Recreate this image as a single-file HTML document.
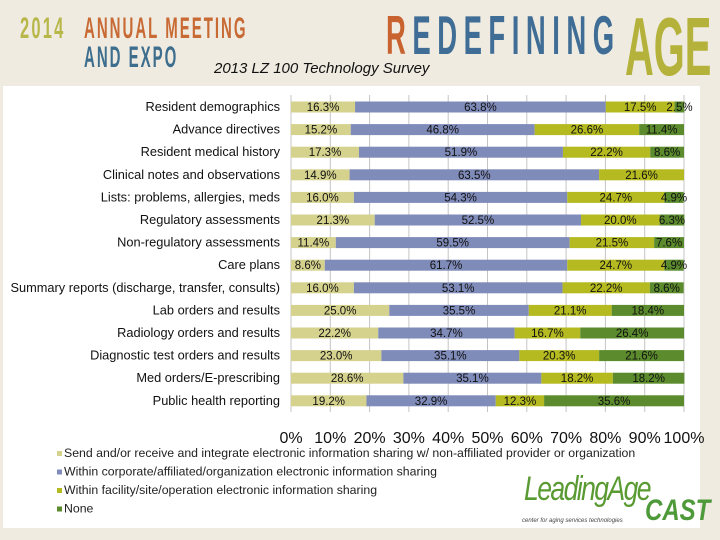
<!DOCTYPE html>
<html><head><meta charset="utf-8">
<style>
body{margin:0;width:720px;height:540px;overflow:hidden;background:#efebe1;font-family:"Liberation Sans",sans-serif;}
.h{position:absolute;font-weight:bold;white-space:nowrap;transform-origin:0 0;line-height:1;}
</style></head>
<body>
<div style="position:absolute;left:0;top:0;width:720px;height:86px;background:#efebe1;">
  <div class="h" style="left:20px;top:14px;font-size:30px;color:#b8b84a;transform:scaleX(0.55);letter-spacing:4px;">2014</div>
  <div class="h" style="left:84px;top:14px;font-size:30px;color:#c86a34;transform:scaleX(0.5);letter-spacing:4px;">ANNUAL MEETING</div>
  <div class="h" style="left:84px;top:43px;font-size:30px;color:#3e6e8e;transform:scaleX(0.5);letter-spacing:4px;">AND EXPO</div>
  <div class="h" style="left:386px;top:8px;font-size:55px;color:#3f6d95;transform:scaleX(0.5);letter-spacing:13px;"><span style="color:#c8622e">R</span>EDEFINING</div>
  <div class="h" style="left:625px;top:5px;font-size:83px;color:#b4b23a;transform:scaleX(0.48);">AGE</div>
  <div style="position:absolute;left:214px;top:60px;font-size:15px;font-style:italic;color:#111;">2013 LZ 100 Technology Survey</div>
</div>
<div style="position:absolute;left:3px;top:86px;width:697px;height:442px;background:#fff;"></div>
<svg id="chart" width="720" height="540" style="position:absolute;left:0;top:0;"></svg>
<div style="position:absolute;left:518px;top:470px;width:195px;height:60px;">
  <div style="position:absolute;left:6px;top:0;font-size:34px;font-style:italic;color:#5a9a32;letter-spacing:-2px;transform:scaleX(0.78);transform-origin:0 0;">LeadingAge</div>
  <div style="position:absolute;left:127px;top:24px;font-size:30px;font-style:italic;font-weight:bold;color:#4e9a3a;transform:scaleX(0.8);transform-origin:0 0;">CAST</div>
  <div style="position:absolute;left:4px;top:48px;font-size:6px;font-style:italic;color:#444;">center for aging services technologies</div>
</div>
<script>
const categories=["Resident demographics","Advance directives","Resident medical history","Clinical notes and observations","Lists: problems, allergies, meds","Regulatory assessments","Non-regulatory assessments","Care plans","Summary reports (discharge, transfer, consults)","Lab orders and results","Radiology orders and results","Diagnostic test orders and results","Med orders/E-prescribing","Public health reporting"];
const sendVals=[16.3,15.2,17.3,14.9,16.0,21.3,11.4,8.6,16.0,25.0,22.2,23.0,28.6,19.2];
const corpVals=[63.8,46.8,51.9,63.5,54.3,52.5,59.5,61.7,53.1,35.5,34.7,35.1,35.1,32.9];
const facilityVals=[17.5,26.6,22.2,21.6,24.7,20.0,21.5,24.7,22.2,21.1,16.7,20.3,18.2,12.3];
const noneVals=[2.5,11.4,8.6,0,4.9,6.3,7.6,4.9,8.6,18.4,26.4,21.6,18.2,35.6];
const ticks=[0,10,20,30,40,50,60,70,80,90,100];
const seriesNames=["Send and/or receive and integrate electronic information sharing w/ non-affiliated provider or organization","Within corporate/affiliated/organization electronic information sharing","Within facility/site/operation electronic information sharing","None"];
const colors=["#d5d28e","#7f8bb9","#b4ba20","#5b8b2c"];
const X0=291,X1=684,Y0=107,DY=22.6,BH=11;
const xs=v=>X0+(X1-X0)*v/100;
const ys=i=>Y0+i*DY;
const svg=document.getElementById('chart');
const NS='http://www.w3.org/2000/svg';
function mk(t,a){const e=document.createElementNS(NS,t);for(const k in a)e.setAttribute(k,a[k]);svg.appendChild(e);return e;}
ticks.forEach(t=>{const l=mk('line',{x1:xs(t),x2:xs(t),y1:95,y2:412,stroke:'#c4c4c4','stroke-width':1});


const tx=mk('text',{x:xs(t),y:443,'text-anchor':'middle','font-size':16,fill:'#111'});tx.textContent=t+'%';

});
const series=[sendVals,corpVals,facilityVals,noneVals];
categories.forEach((c,i)=>{
 const lb=mk('text',{x:280,y:ys(i)+4,'text-anchor':'end','font-size':12.8,fill:'#111'});lb.textContent=c;
 
 
 let acc=0;
 series.forEach((s,k)=>{const v=s[i];if(!v){return;}
  const r=mk('rect',{x:xs(acc),y:ys(i)-BH/2,width:xs(acc+v)-xs(acc),height:BH,fill:colors[k]});
  
  
  const t=mk('text',{x:(xs(acc)+xs(acc+v))/2,y:ys(i)+4,'text-anchor':'middle','font-size':11.5,fill:'#111'});t.textContent=v.toFixed(1)+'%';
  
  
  acc+=v;});
});
seriesNames.forEach((n,k)=>{const y=455+k*18.5;
 const r=mk('rect',{x:57,y:y-4,width:5,height:5,fill:colors[k]});
 
 
 const t=mk('text',{x:64,y:y+2,'font-size':12.3,fill:'#222'});t.textContent=n;
 
 });
</script>
</body></html>
